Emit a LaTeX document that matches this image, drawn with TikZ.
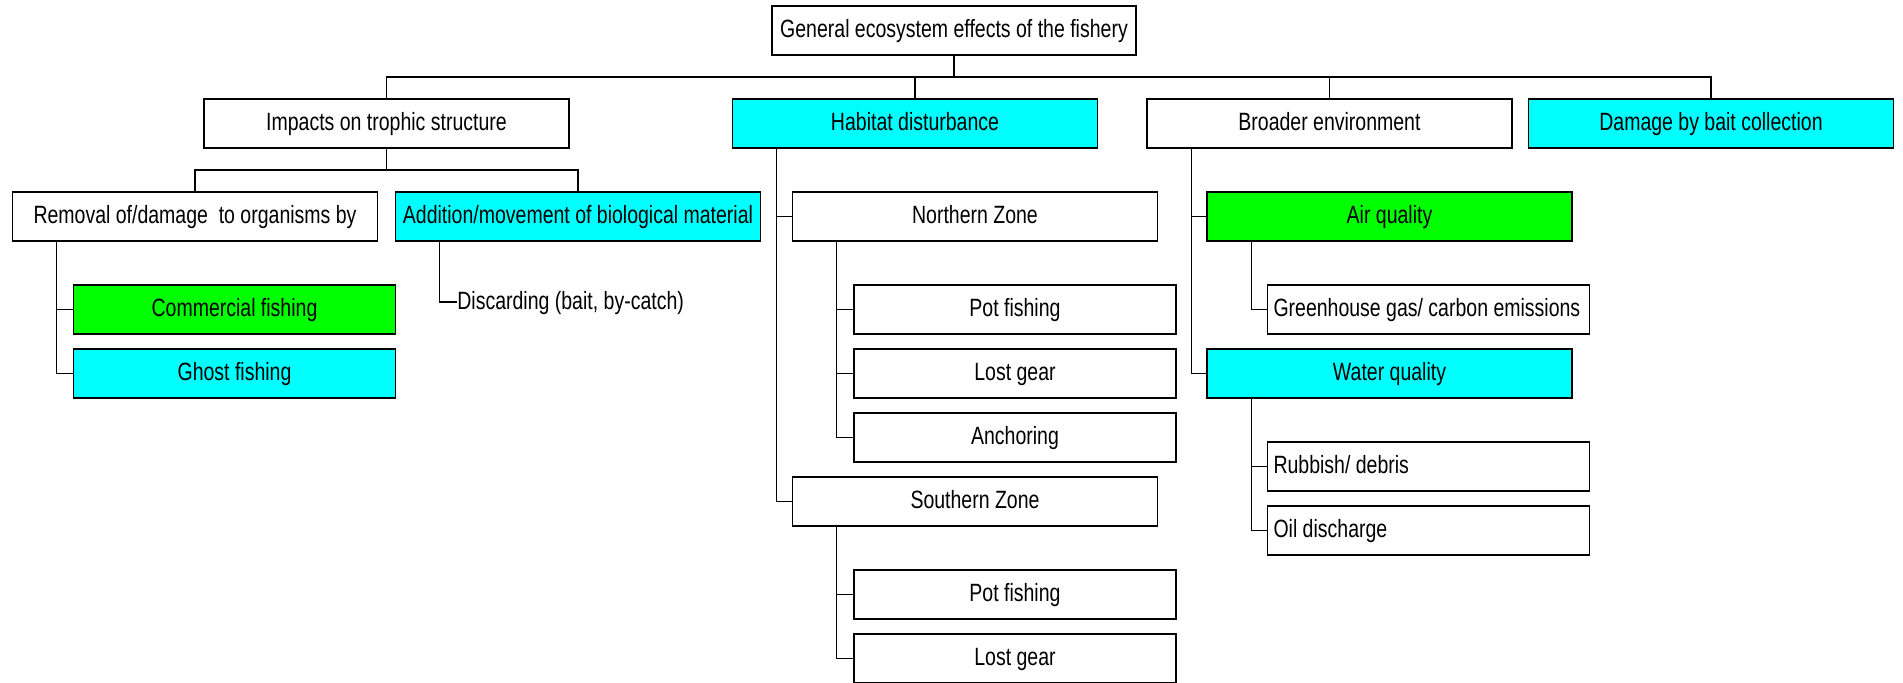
\documentclass[tikz,border=0pt]{standalone}
\usepackage{fontspec}
\setmainfont[FakeStretch=0.78]{Liberation Sans}
\definecolor{aqua}{RGB}{0,255,255}
\definecolor{lime}{RGB}{0,255,0}
\begin{document}
\begin{tikzpicture}[x=0.5pt,y=-0.5pt,
  lbl/.style={font=\fontsize{12.5}{15}\selectfont, text height=9.5pt, text depth=2.5pt},
  box/.style={lbl, draw=black, line width=0.8pt, minimum height=24.5pt, inner sep=0pt, anchor=center},
  wide/.style={box, minimum width=182.5pt},
  narrow/.style={box, minimum width=161pt},
  leftbox/.style={box, text width=155pt, inner xsep=3pt, align=flush left},
  cyanbox/.style={fill=aqua},
  greenbox/.style={fill=lime},
  link/.style={draw=black, line width=0.55pt}
]
\useasboundingbox (0,0) rectangle (1903,682);
\clip (0,0) rectangle (1903,682);
\fill[white] (0,0) rectangle (1903,682);

% root and first level
\node[wide, minimum width=182pt] (root) at (954,30.5) {General ecosystem effects of the fishery};
\node[wide] (imp)  at (386.5,123.5) {Impacts on trophic structure};
\node[wide, cyanbox] (hab)  at (915,123.5) {Habitat disturbance};
\node[wide] (bro)  at (1329.5,123.5) {Broader environment};
\node[wide, cyanbox] (bait) at (1711,123.5) {Damage by bait collection};

% trophic structure branch
\node[wide] (rem) at (195,216.5) {Removal of/damage\ \ to organisms by};
\node[wide, cyanbox] (add) at (578,216.5) {Addition/movement of biological material};
\node[narrow, greenbox] (com) at (234.5,309.5) {Commercial fishing};
\node[narrow, cyanbox] (ghost) at (234.5,373.5) {Ghost fishing};
\node[lbl, anchor=west, inner sep=0pt] (disc) at (457,302) {Discarding (bait, by-catch)};

% habitat branch
\node[wide] (north) at (975,216.5) {Northern Zone};
\node[narrow] (npot)  at (1015,309.5) {Pot fishing};
\node[narrow] (nlost) at (1015,373.5) {Lost gear};
\node[narrow] (nanch) at (1015,437.5) {Anchoring};
\node[wide] (south) at (975,501.5) {Southern Zone};
\node[narrow] (spot)  at (1015,594.5) {Pot fishing};
\node[narrow] (slost) at (1015,658.5) {Lost gear};

% broader environment branch
\node[wide, greenbox] (air) at (1389.5,216.5) {Air quality};
\node[leftbox] (ghg) at (1428.5,309.5) {\mbox{Greenhouse gas/ carbon emissions}};
\node[wide, cyanbox] (water) at (1389.5,373.5) {Water quality};
\node[leftbox] (rub) at (1428.5,466.5) {\mbox{Rubbish/ debris}};
\node[leftbox] (oil) at (1428.5,530.5) {\mbox{Oil discharge}};

% buses
\coordinate (busA) at (0,77);
\coordinate (busB) at (0,170);
\draw[link] (root.south) -- (root.south |- busA);
\draw[link] (imp.north) -- (imp.north |- busA) -- (bait.north |- busA) -- (bait.north);
\draw[link] (hab.north) -- (hab.north |- busA);
\draw[link] (bro.north) -- (bro.north |- busA);
\draw[link] (imp.south) -- (imp.south |- busB);
\draw[link] (rem.north) -- (rem.north |- busB) -- (add.north |- busB) -- (add.north);

% side trunks
\draw[link] ([xshift=22.5pt]rem.south west) |- (ghost.west);
\draw[link] ([xshift=22.5pt]rem.south west) |- (com.west);
\draw[link] ([xshift=22.5pt]add.south west) |- (disc.west);
\draw[link] ([xshift=22.5pt]hab.south west) |- (south.west);
\draw[link] ([xshift=22.5pt]hab.south west) |- (north.west);
\draw[link] ([xshift=22.5pt]north.south west) |- (nanch.west);
\draw[link] ([xshift=22.5pt]north.south west) |- (nlost.west);
\draw[link] ([xshift=22.5pt]north.south west) |- (npot.west);
\draw[link] ([xshift=22.5pt]south.south west) |- (slost.west);
\draw[link] ([xshift=22.5pt]south.south west) |- (spot.west);
\draw[link] ([xshift=22.5pt]bro.south west) |- (water.west);
\draw[link] ([xshift=22.5pt]bro.south west) |- (air.west);
\draw[link] ([xshift=22.5pt]air.south west) |- (ghg.west);
\draw[link] ([xshift=22.5pt]water.south west) |- (oil.west);
\draw[link] ([xshift=22.5pt]water.south west) |- (rub.west);
\end{tikzpicture}
\end{document}
